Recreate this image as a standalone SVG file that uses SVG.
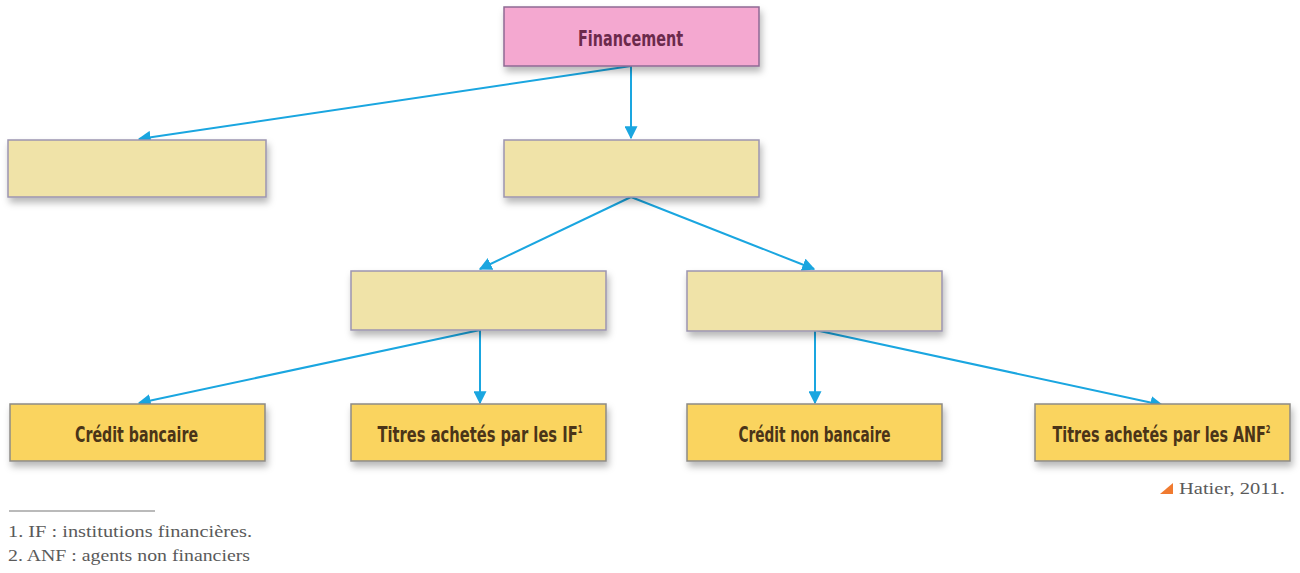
<svg xmlns="http://www.w3.org/2000/svg" width="1300" height="573" viewBox="0 0 1300 573">
<style>
.box{stroke-width:1.5;filter:url(#sh)}
.pink{fill:#f4a8d0;stroke:#8e6a94}
.beige{fill:#f0e3a8;stroke:#9c95b0}
.gold{fill:#fad45e;stroke:#8d8a86}
.lbl{font-family:"DejaVu Sans Condensed","DejaVu Sans",sans-serif;font-weight:bold;font-size:15px;text-anchor:middle}
.dark{fill:#4a3418}
.sup{font-size:7px}
.con{stroke:#1aa6e0;stroke-width:2;fill:none;marker-end:url(#ah)}
.note{font-family:"Liberation Serif","DejaVu Serif",serif;font-size:16px;fill:#5a5a5a}
</style>
<defs>
<filter id="sh" x="-10%" y="-20%" width="125%" height="160%">
<feDropShadow dx="2" dy="5" stdDeviation="3.5" flood-color="#000" flood-opacity="0.28"/>
</filter>
<marker id="ah" viewBox="0 0 10 10" refX="9" refY="5" markerWidth="6.5" markerHeight="6.5" markerUnits="strokeWidth" orient="auto">
<path d="M0,0 L10,5 L0,10 z" fill="#1aa6e0"/>
</marker>
</defs>
<g id="connectors">
<path class="con" d="M631,66 L631,138"/>
<path class="con" d="M631,66 L139,139"/>
<path class="con" d="M631,197 L480,269"/>
<path class="con" d="M631,197 L814,269"/>
<path class="con" d="M480,330 L139,403"/>
<path class="con" d="M480,330 L480,403"/>
<path class="con" d="M815,330 L815,403"/>
<path class="con" d="M815,330 L1162,405"/>
</g>
<g id="n-financement">
<rect class="box pink" x="504" y="7" width="255" height="59"/>
<text class="lbl" transform="translate(630.5,46) scale(1,1.45)" fill="#6b2a4c" textLength="105" lengthAdjust="spacingAndGlyphs">Financement</text>
</g>
<g id="n-l2a"><rect class="box beige" x="8" y="140" width="258" height="57"/></g>
<g id="n-l2b"><rect class="box beige" x="504" y="140" width="255" height="57"/></g>
<g id="n-l3a"><rect class="box beige" x="351" y="271" width="255" height="59"/></g>
<g id="n-l3b"><rect class="box beige" x="687" y="271" width="255" height="60"/></g>
<g id="n-credit-bancaire">
<rect class="box gold" x="10" y="404" width="255" height="57"/>
<text class="lbl dark" transform="translate(136.5,442) scale(1,1.45)" textLength="123" lengthAdjust="spacingAndGlyphs">Crédit bancaire</text>
</g>
<g id="n-titres-if">
<rect class="box gold" x="351" y="404" width="255" height="57"/>
<text class="lbl dark" transform="translate(480,442) scale(1,1.45)" textLength="205" lengthAdjust="spacingAndGlyphs">Titres achetés par les IF<tspan class="sup" dy="-6.5">1</tspan></text>
</g>
<g id="n-credit-non-bancaire">
<rect class="box gold" x="687" y="404" width="255" height="57"/>
<text class="lbl dark" transform="translate(814.5,442) scale(1,1.45)" textLength="152" lengthAdjust="spacingAndGlyphs">Crédit non bancaire</text>
</g>
<g id="n-titres-anf">
<rect class="box gold" x="1035" y="404" width="255" height="57"/>
<text class="lbl dark" transform="translate(1161.5,442) scale(1,1.45)" textLength="218" lengthAdjust="spacingAndGlyphs">Titres achetés par les ANF<tspan class="sup" dy="-6.5">2</tspan></text>
</g>
<line x1="9" y1="511" x2="155" y2="511" stroke="#777" stroke-width="1.2"/>
<text class="note" x="8" y="537" textLength="244" lengthAdjust="spacingAndGlyphs">1. IF : institutions financières.</text>
<text class="note" x="8" y="561" textLength="242" lengthAdjust="spacingAndGlyphs">2. ANF : agents non financiers</text>
<path d="M1160,494 L1173,483 L1173,494 z" fill="#f07a30"/>
<text class="note" x="1179" y="494" font-size="15" textLength="106" lengthAdjust="spacingAndGlyphs">Hatier, 2011.</text>
</svg>
